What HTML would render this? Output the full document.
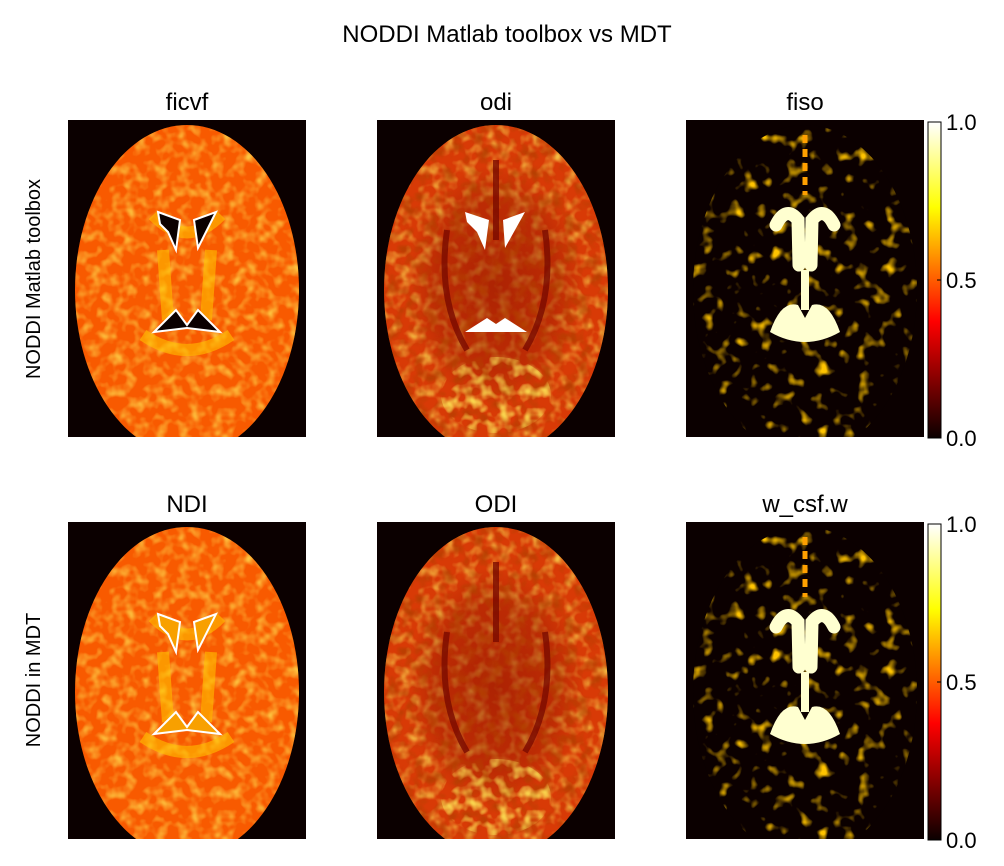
<!DOCTYPE html>
<html><head><meta charset="utf-8"><style>
body{margin:0;background:#fff;}
svg{display:block;font-family:"Liberation Sans",Arial,sans-serif;}
</style></head><body>
<svg id="fig" width="1004" height="866" viewBox="0 0 1004 866">
<defs>
<linearGradient id="hot" x1="0" y1="1" x2="0" y2="0">
<stop offset="0" stop-color="#0b0000"/><stop offset="0.37" stop-color="#ff0000"/>
<stop offset="0.73" stop-color="#ffff00"/><stop offset="1" stop-color="#ffffff"/>
</linearGradient>
<radialGradient id="odiShade" cx="0.5" cy="0.5" r="0.5">
<stop offset="0" stop-color="#8a1000" stop-opacity="0.55"/>
<stop offset="0.7" stop-color="#8a1000" stop-opacity="0.35"/>
<stop offset="1" stop-color="#8a1000" stop-opacity="0"/>
</radialGradient>
<filter id="tex" x="0" y="0" width="1" height="1">
<feTurbulence type="fractalNoise" baseFrequency="0.09" numOctaves="2" seed="3"/>
<feColorMatrix type="matrix" values="0 0 0 0 1  0 0 0 0 0.85  0 0 0 0 0.1  0 0 0 1.6 -0.7"/>
<feComposite in2="SourceGraphic" operator="in"/>
</filter>
<filter id="tex2" x="0" y="0" width="1" height="1">
<feTurbulence type="fractalNoise" baseFrequency="0.07" numOctaves="2" seed="7"/>
<feColorMatrix type="matrix" values="0 0 0 0 1  0 0 0 0 0.55  0 0 0 0 0  0 0 0 4 -2.3"/>
<feComposite in2="SourceGraphic" operator="in"/>
</filter>
<filter id="tex3" x="0" y="0" width="1" height="1">
<feTurbulence type="fractalNoise" baseFrequency="0.08" numOctaves="2" seed="11"/>
<feColorMatrix type="matrix" values="0 0 0 0 0.45  0 0 0 0 0.05  0 0 0 0 0  0 0 0 2.2 -1.0"/>
<feComposite in2="SourceGraphic" operator="in"/>
</filter>
<clipPath id="pc"><rect x="0" y="0" width="238" height="317"/></clipPath>
</defs>
<text x="507" y="42" text-anchor="middle" font-size="24">NODDI Matlab toolbox vs MDT</text>
<text transform="translate(40,279) rotate(-90)" text-anchor="middle" font-size="20">NODDI Matlab toolbox</text>
<text transform="translate(40,680) rotate(-90)" text-anchor="middle" font-size="20">NODDI in MDT</text>
<g id="panels"></g>
</svg>
<script>
const colTitles=[["ficvf","odi","fiso"],["NDI","ODI","w_csf.w"]];
const colX=[68,377,686];
const rowY=[120,522];
const tickVals=[0.0,0.5,1.0];
const tickLabels=["0.0","0.5","1.0"];
const cbMin=0, cbMax=1.0;
const NS="http://www.w3.org/2000/svg";
const root=document.getElementById('panels');
function mk(t,a,p){const e=document.createElementNS(NS,t);for(const k in a)e.setAttribute(k,a[k]);(p||root).appendChild(e);return e;}
const fill=["#f85a00","#d83a06","#0b0000"];
for(let r=0;r<2;r++){for(let c=0;c<3;c++){
 const g=mk('g',{transform:`translate(${colX[c]},${rowY[r]})`,'clip-path':'url(#pc)'});
 
 
 mk('rect',{x:0,y:0,width:238,height:317,fill:'#0b0000'},g);
 mk('ellipse',{cx:119,cy:170,rx:112,ry:165,fill:fill[c]},g);
 if(c===0){
  mk('ellipse',{cx:119,cy:170,rx:112,ry:165,fill:'#ffb000',filter:'url(#tex)'},g);
  mk('path',{d:'M85 95 Q119 130 153 95 M75 215 Q119 245 163 215 M95 130 L100 200 M143 130 L138 200',stroke:'#ffc000','stroke-width':12,fill:'none',opacity:0.6},g);
  mk('path',{d:'M90 92 L112 100 L108 130 L100 112 L92 104Z M126 100 L148 92 L130 128Z',fill:r?'#f8a000':'#0b0000',stroke:'#fff','stroke-width':2},g);
  mk('path',{d:'M86 212 L108 190 L119 205 L130 190 L152 212 L119 208Z',fill:r?'#f8a000':'#0b0000',stroke:'#fff','stroke-width':2},g);
 } else if(c===1){
  mk('ellipse',{cx:119,cy:170,rx:112,ry:165,fill:'#ffb000',filter:'url(#tex)'},g);
  mk('ellipse',{cx:119,cy:165,rx:88,ry:120,fill:'url(#odiShade)'},g);
  mk('ellipse',{cx:119,cy:170,rx:112,ry:165,fill:'#600',filter:'url(#tex3)'},g);
  mk('path',{d:'M70 110 Q60 180 90 230 M168 110 Q178 180 148 230 M119 40 L119 120',stroke:'#7a0a00','stroke-width':6,fill:'none',opacity:0.8},g);
  mk('ellipse',{cx:119,cy:275,rx:55,ry:38,fill:'#ffa000',filter:'url(#tex)'},g);
  if(r===0){mk('path',{d:'M88 92 L112 100 L108 130 L100 112 L90 102Z M126 100 L148 92 L128 128Z M88 212 L110 198 L119 204 L128 198 L150 212 L119 212Z',fill:'#fff'},g);}
 } else {
  mk('ellipse',{cx:119,cy:170,rx:112,ry:165,fill:'#ff8000',filter:'url(#tex2)'},g);
  mk('path',{d:'M90 105 Q100 85 112 100 L113 145 M148 105 Q138 85 126 100 L125 145',stroke:'#ffffd0','stroke-width':13,fill:'none','stroke-linecap':'round'},g);
  mk('path',{d:'M84 212 Q95 180 112 185 L119 198 L126 185 Q143 180 154 212 Q119 232 84 212Z',fill:'#ffffd0'},g);
  mk('path',{d:'M119 150 L119 190',stroke:'#ffffd0','stroke-width':8},g);
  mk('path',{d:'M119 15 L119 75',stroke:'#ffa000','stroke-width':5,'stroke-dasharray':'8 6'},g);
 }
 const t=mk('text',{x:colX[c]+119,y:rowY[r]-10,'text-anchor':'middle','font-size':24});
 t.textContent=colTitles[r][c];
 
 
}
 const cx=928,cw=13,top=rowY[r]+2,bot=rowY[r]+318;
 const cb=mk('rect',{x:cx,y:top,width:cw,height:bot-top,fill:'url(#hot)',stroke:'#000','stroke-width':1});
 
 
 const ys=v=>bot-(v-cbMin)/(cbMax-cbMin)*(bot-top);
 tickVals.forEach((v,i)=>{
  const y=ys(v);
  mk('line',{x1:cx+cw-4,x2:cx+cw,y1:y,y2:y,stroke:'#000'});
  const tl=mk('text',{x:cx+cw+5,y:y+8,'font-size':22});
  tl.textContent=tickLabels[i];
  
  
 });
}
</script>
</body></html>
